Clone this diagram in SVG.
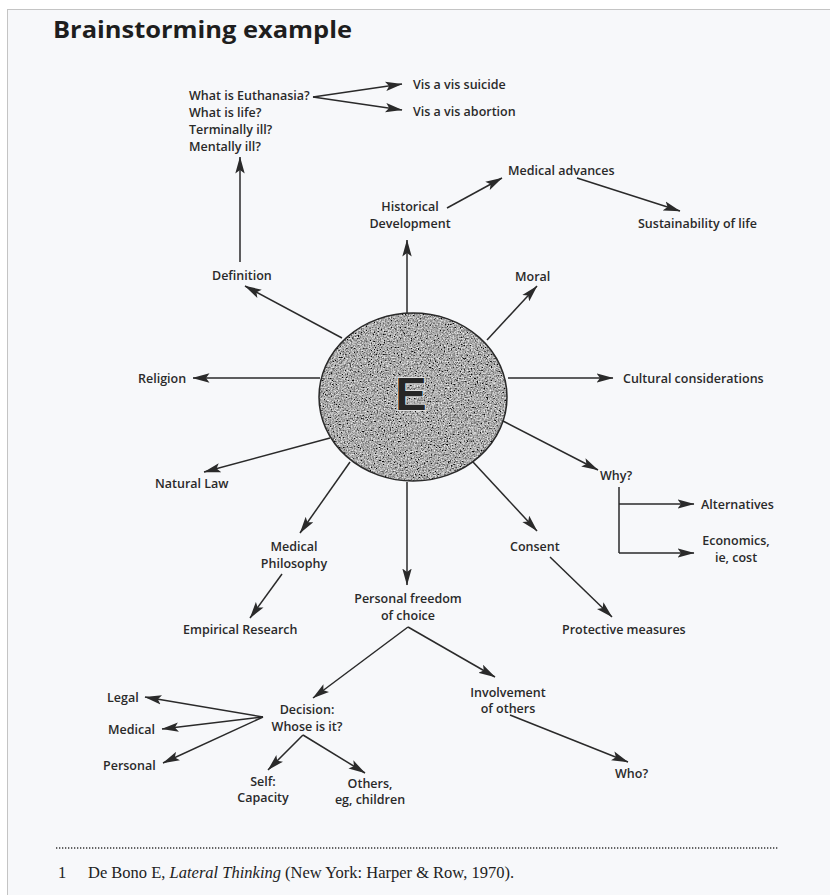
<svg xmlns="http://www.w3.org/2000/svg" width="830" height="895" viewBox="0 0 830 895">
<style>
  .t { font-family: "Open Sans", "Liberation Sans", sans-serif; font-size: 12.5px; font-weight: 600; fill: #2a2a2a; }
  .m { text-anchor: middle; }
  .c { stroke: #2a2a2a; stroke-width: 1.5; fill: none; }
  .a { marker-end: url(#arr); }
  .title { font-family: "Open Sans", "Liberation Sans", sans-serif; font-weight: bold; font-size: 24px; fill: #1e1e1e; }
  .fn { font-family: "Liberation Serif", serif; font-size: 16.5px; fill: #222; }
</style>
<defs>
  <marker id="arr" viewBox="0 0 17 10" markerWidth="17" markerHeight="10" refX="16.5" refY="5" orient="auto" markerUnits="userSpaceOnUse">
    <path d="M0,0.3 L17,5 L0,9.7 L3.5,5 z" fill="#2a2a2a"/>
  </marker>
  <filter id="grain" x="0%" y="0%" width="100%" height="100%">
    <feTurbulence type="fractalNoise" baseFrequency="0.7" numOctaves="3" seed="4" result="t"/>
    <feColorMatrix in="t" type="matrix" values="0.33 0.33 0.33 0 0  0.33 0.33 0.33 0 0  0.33 0.33 0.33 0 0  0 0 0 0 1" result="g"/>
    <feComponentTransfer in="g" result="c">
      <feFuncR type="linear" slope="2.8" intercept="-0.95"/>
      <feFuncG type="linear" slope="2.8" intercept="-0.95"/>
      <feFuncB type="linear" slope="2.8" intercept="-0.95"/>
    </feComponentTransfer>
    <feComposite in="c" in2="SourceGraphic" operator="in"/>
  </filter>
</defs>

<rect x="0" y="0" width="830" height="895" fill="#ffffff"/>
<rect x="7.5" y="9.5" width="830" height="890" fill="#f7f8fa" stroke="#c4c4c4" stroke-width="1"/>

<text class="title" x="53" y="38" textLength="299" lengthAdjust="spacingAndGlyphs">Brainstorming example</text>

<g id="connectors">
  <path class="c a" d="M313,97 L402,84"/>
  <path class="c a" d="M313,97 L402,110"/>
  <path class="c a" d="M240,262 L240,157"/>
  <path class="c a" d="M342,338 L245,286"/>
  <path class="c a" d="M407,313 L407,240"/>
  <path class="c a" d="M447,208 L502,178"/>
  <path class="c a" d="M577,178 L680,211"/>
  <path class="c a" d="M487,340 L537,286"/>
  <path class="c a" d="M320,378 L193,378"/>
  <path class="c a" d="M508,378 L613,378"/>
  <path class="c a" d="M503,421 L598,470"/>
  <path class="c" d="M619,487 L619,553"/>
  <path class="c a" d="M619,504 L694,504"/>
  <path class="c a" d="M619,553 L694,553"/>
  <path class="c a" d="M473,462 L537,531"/>
  <path class="c a" d="M550,557 L612,617"/>
  <path class="c a" d="M407,482 L407,585"/>
  <path class="c a" d="M330,438 L204,472"/>
  <path class="c a" d="M350,462 L300,533"/>
  <path class="c a" d="M282,574 L250,618"/>
  <path class="c a" d="M408,627 L313,698"/>
  <path class="c a" d="M408,627 L495,677"/>
  <path class="c a" d="M510,715 L628,762"/>
  <path class="c a" d="M263,717 L145,697"/>
  <path class="c a" d="M263,717 L162,729"/>
  <path class="c a" d="M263,717 L163,763"/>
  <path class="c a" d="M303,735 L268,770"/>
  <path class="c a" d="M303,735 L365,773"/>
</g>

<g id="center">
  <ellipse cx="413" cy="397" rx="94" ry="84" fill="#777777"/>
  <ellipse cx="413" cy="397" rx="94" ry="84" fill="#000" filter="url(#grain)" opacity="0.9"/>
  <ellipse cx="413" cy="397" rx="94" ry="84" fill="none" stroke="#2a2a2a" stroke-width="1.5"/>
  <text x="411" y="410" text-anchor="middle" font-family="Liberation Sans, sans-serif" font-weight="bold" font-size="47" fill="#262626" stroke="#e0e0e0" stroke-width="2" paint-order="stroke">E</text>
</g>

<g id="questions">
  <text class="t" x="189" y="100">What is Euthanasia?</text>
  <text class="t" x="189" y="117">What is life?</text>
  <text class="t" x="189" y="134">Terminally ill?</text>
  <text class="t" x="189" y="151">Mentally ill?</text>
</g>
<g id="suicide"><text class="t" x="413" y="89">Vis a vis suicide</text></g>
<g id="abortion"><text class="t" x="413" y="116">Vis a vis abortion</text></g>
<g id="medical-advances"><text class="t" x="508" y="175">Medical advances</text></g>
<g id="historical"><text class="t m" x="410" y="211">Historical</text><text class="t m" x="410" y="228">Development</text></g>
<g id="sustainability"><text class="t" x="638" y="228">Sustainability of life</text></g>
<g id="definition"><text class="t" x="212" y="280">Definition</text></g>
<g id="moral"><text class="t" x="515" y="281">Moral</text></g>
<g id="religion"><text class="t" x="138" y="383">Religion</text></g>
<g id="cultural"><text class="t" x="623" y="383">Cultural considerations</text></g>
<g id="why"><text class="t" x="600" y="480">Why?</text></g>
<g id="alternatives"><text class="t" x="701" y="509">Alternatives</text></g>
<g id="economics"><text class="t m" x="736" y="545">Economics,</text><text class="t m" x="736" y="562">ie, cost</text></g>
<g id="natural-law"><text class="t" x="155" y="488">Natural Law</text></g>
<g id="consent"><text class="t" x="510" y="551">Consent</text></g>
<g id="medical-philosophy"><text class="t m" x="294" y="551">Medical</text><text class="t m" x="294" y="568">Philosophy</text></g>
<g id="personal-freedom"><text class="t m" x="408" y="603">Personal freedom</text><text class="t m" x="408" y="620">of choice</text></g>
<g id="empirical"><text class="t" x="183" y="634">Empirical Research</text></g>
<g id="protective"><text class="t" x="562" y="634">Protective measures</text></g>
<g id="decision"><text class="t m" x="307" y="714">Decision:</text><text class="t m" x="307" y="731">Whose is it?</text></g>
<g id="involvement"><text class="t m" x="508" y="697">Involvement</text><text class="t m" x="508" y="713">of others</text></g>
<g id="legal"><text class="t" x="107" y="702">Legal</text></g>
<g id="medical"><text class="t" x="108" y="734">Medical</text></g>
<g id="personal"><text class="t" x="103" y="770">Personal</text></g>
<g id="self"><text class="t m" x="263" y="786">Self:</text><text class="t m" x="263" y="802">Capacity</text></g>
<g id="others"><text class="t m" x="370" y="788">Others,</text><text class="t m" x="370" y="804">eg, children</text></g>
<g id="who"><text class="t" x="615" y="778">Who?</text></g>

<g id="footnote">
  <line x1="56" y1="848" x2="778" y2="848" stroke="#333" stroke-width="1.4" stroke-dasharray="1.3 1.7"/>
  <text class="fn" x="58" y="878">1</text>
  <text class="fn" x="88" y="878">De Bono E, <tspan font-style="italic">Lateral Thinking</tspan> (New York: Harper &amp; Row, 1970).</text>
</g>
</svg>
